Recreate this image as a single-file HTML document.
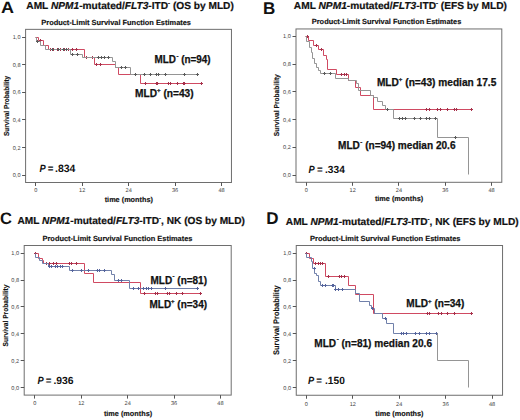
<!DOCTYPE html>
<html><head><meta charset="utf-8"><style>
html,body{margin:0;padding:0;background:#fff;}
svg{display:block;}
text{font-family:"Liberation Sans", sans-serif;text-rendering:geometricPrecision;}
</style></head><body>
<svg width="520" height="420" viewBox="0 0 520 420">
<rect width="520" height="420" fill="#fff"/>
<text transform="translate(1,13.4) scale(1.09,1)" font-size="16.5" font-weight="bold" fill="#111">A</text>
<text x="26.3" y="9.3" font-size="10.2" font-weight="bold" fill="#111" stroke="#111" stroke-width="0.2" textLength="207.5" lengthAdjust="spacingAndGlyphs">AML <tspan font-style="italic">NPM1</tspan>-mutated/<tspan font-style="italic">FLT3</tspan>-ITD<tspan dy="-4.5" font-size="6">-</tspan><tspan dy="4.5"> (OS by MLD)</tspan></text>
<text x="41.3" y="25" font-size="7.4" font-weight="bold" fill="#111" stroke="#111" stroke-width="0.15" textLength="149.7" lengthAdjust="spacingAndGlyphs">Product-Limit Survival Function Estimates</text>
<rect x="25.6" y="29.35" width="205.85" height="153.15" fill="none" stroke="#6e6e6e" stroke-width="1"/>
<line x1="22.1" y1="175.5" x2="25.6" y2="175.5" stroke="#555" stroke-width="1"/>
<text x="20.5" y="177.2" font-size="5.6" fill="#444" text-anchor="end">0,0</text>
<line x1="22.1" y1="147.5" x2="25.6" y2="147.5" stroke="#555" stroke-width="1"/>
<text x="20.5" y="149.58" font-size="5.6" fill="#444" text-anchor="end">0,2</text>
<line x1="22.1" y1="119.5" x2="25.6" y2="119.5" stroke="#555" stroke-width="1"/>
<text x="20.5" y="121.96" font-size="5.6" fill="#444" text-anchor="end">0,4</text>
<line x1="22.1" y1="92.5" x2="25.6" y2="92.5" stroke="#555" stroke-width="1"/>
<text x="20.5" y="94.34" font-size="5.6" fill="#444" text-anchor="end">0,6</text>
<line x1="22.1" y1="64.5" x2="25.6" y2="64.5" stroke="#555" stroke-width="1"/>
<text x="20.5" y="66.72" font-size="5.6" fill="#444" text-anchor="end">0,8</text>
<line x1="22.1" y1="37.5" x2="25.6" y2="37.5" stroke="#555" stroke-width="1"/>
<text x="20.5" y="39.1" font-size="5.6" fill="#444" text-anchor="end">1,0</text>
<line x1="35.5" y1="182.5" x2="35.5" y2="186" stroke="#555" stroke-width="1"/>
<text x="35.8" y="192.1" font-size="5.6" fill="#444" text-anchor="middle">0</text>
<line x1="82.5" y1="182.5" x2="82.5" y2="186" stroke="#555" stroke-width="1"/>
<text x="82.24" y="192.1" font-size="5.6" fill="#444" text-anchor="middle">12</text>
<line x1="128.5" y1="182.5" x2="128.5" y2="186" stroke="#555" stroke-width="1"/>
<text x="128.68" y="192.1" font-size="5.6" fill="#444" text-anchor="middle">24</text>
<line x1="175.5" y1="182.5" x2="175.5" y2="186" stroke="#555" stroke-width="1"/>
<text x="175.11" y="192.1" font-size="5.6" fill="#444" text-anchor="middle">36</text>
<line x1="221.5" y1="182.5" x2="221.5" y2="186" stroke="#555" stroke-width="1"/>
<text x="221.55" y="192.1" font-size="5.6" fill="#444" text-anchor="middle">48</text>
<text x="128.8" y="201.8" font-size="7.3" font-weight="bold" fill="#111" stroke="#111" stroke-width="0.15" text-anchor="middle">time (months)</text>
<text transform="translate(8.85,105.9) rotate(-90)" font-size="7.2" font-weight="bold" fill="#111" stroke="#111" stroke-width="0.15" text-anchor="middle" textLength="60.2" lengthAdjust="spacingAndGlyphs">Survival Probability</text>
<g font-size="10.6" font-weight="bold" fill="#111"><text x="39.6" y="172.2" font-style="italic" textLength="6.2" lengthAdjust="spacingAndGlyphs">P</text><text x="47.7" y="172.2" textLength="5.7" lengthAdjust="spacingAndGlyphs">=</text><text x="55" y="172.2" textLength="20.4" lengthAdjust="spacingAndGlyphs">.834</text></g>
<path d="M35.5 37.5 L38.5 37.5 L38.5 40.5 L43.5 40.5 L43.5 45.5 L48.5 45.5 L48.5 49.5 L84.5 49.5 L84.5 57.5 L94.5 57.5 L94.5 64.5 L115.5 64.5 L115.5 67.5 L118.5 67.5 L118.5 74.5 L140.5 74.5 L140.5 83.5 L202.5 83.5" fill="none" stroke="#d04a62" stroke-width="1"/>
<path d="M40.5 39V42M39 40.5H42" stroke="#a8304a" stroke-width="1"/>
<path d="M50.5 48V51M49 49.5H52" stroke="#a8304a" stroke-width="1"/>
<path d="M53.5 48V51M52 49.5H55" stroke="#a8304a" stroke-width="1"/>
<path d="M57.5 48V51M56 49.5H59" stroke="#a8304a" stroke-width="1"/>
<path d="M60.5 48V51M59 49.5H62" stroke="#a8304a" stroke-width="1"/>
<path d="M64.5 48V51M63 49.5H66" stroke="#a8304a" stroke-width="1"/>
<path d="M68.5 48V51M67 49.5H70" stroke="#a8304a" stroke-width="1"/>
<path d="M72.5 48V51M71 49.5H74" stroke="#a8304a" stroke-width="1"/>
<path d="M76.5 48V51M75 49.5H78" stroke="#a8304a" stroke-width="1"/>
<path d="M86.5 56V59M85 57.5H88" stroke="#a8304a" stroke-width="1"/>
<path d="M92.5 56V59M91 57.5H94" stroke="#a8304a" stroke-width="1"/>
<path d="M96.5 63V66M95 64.5H98" stroke="#a8304a" stroke-width="1"/>
<path d="M100.5 63V66M99 64.5H102" stroke="#a8304a" stroke-width="1"/>
<path d="M145.5 82V85M144 83.5H147" stroke="#a8304a" stroke-width="1"/>
<path d="M156.5 82V85M155 83.5H158" stroke="#a8304a" stroke-width="1"/>
<path d="M157.5 82V85M156 83.5H159" stroke="#a8304a" stroke-width="1"/>
<path d="M168.5 82V85M167 83.5H170" stroke="#a8304a" stroke-width="1"/>
<path d="M170.5 82V85M169 83.5H172" stroke="#a8304a" stroke-width="1"/>
<path d="M177.5 82V85M176 83.5H179" stroke="#a8304a" stroke-width="1"/>
<path d="M183.5 82V85M182 83.5H185" stroke="#a8304a" stroke-width="1"/>
<path d="M184.5 82V85M183 83.5H186" stroke="#a8304a" stroke-width="1"/>
<path d="M201.5 82V85M200 83.5H203" stroke="#a8304a" stroke-width="1"/>
<path d="M35.5 37.5 L36.5 37.5 L36.5 41.5 L40.5 41.5 L40.5 45.5 L45.5 45.5 L45.5 49.5 L70.5 49.5 L70.5 54.5 L82.5 54.5 L82.5 57.5 L112.5 57.5 L112.5 61.5 L115.5 61.5 L115.5 67.5 L130.5 67.5 L130.5 74.5 L198.5 74.5" fill="none" stroke="#959595" stroke-width="1"/>
<path d="M37.5 40V43M36 41.5H39" stroke="#5a5a5a" stroke-width="1"/>
<path d="M52.5 48V51M51 49.5H54" stroke="#5a5a5a" stroke-width="1"/>
<path d="M58.5 48V51M57 49.5H60" stroke="#5a5a5a" stroke-width="1"/>
<path d="M63.5 48V51M62 49.5H65" stroke="#5a5a5a" stroke-width="1"/>
<path d="M66.5 48V51M65 49.5H68" stroke="#5a5a5a" stroke-width="1"/>
<path d="M72.5 53V56M71 54.5H74" stroke="#5a5a5a" stroke-width="1"/>
<path d="M77.5 53V56M76 54.5H79" stroke="#5a5a5a" stroke-width="1"/>
<path d="M98.5 56V59M97 57.5H100" stroke="#5a5a5a" stroke-width="1"/>
<path d="M101.5 56V59M100 57.5H103" stroke="#5a5a5a" stroke-width="1"/>
<path d="M104.5 56V59M103 57.5H106" stroke="#5a5a5a" stroke-width="1"/>
<path d="M108.5 56V59M107 57.5H110" stroke="#5a5a5a" stroke-width="1"/>
<path d="M121.5 66V69M120 67.5H123" stroke="#5a5a5a" stroke-width="1"/>
<path d="M125.5 66V69M124 67.5H127" stroke="#5a5a5a" stroke-width="1"/>
<path d="M135.5 73V76M134 74.5H137" stroke="#5a5a5a" stroke-width="1"/>
<path d="M144.5 73V76M143 74.5H146" stroke="#5a5a5a" stroke-width="1"/>
<path d="M150.5 73V76M149 74.5H152" stroke="#5a5a5a" stroke-width="1"/>
<path d="M156.5 73V76M155 74.5H158" stroke="#5a5a5a" stroke-width="1"/>
<path d="M158.5 73V76M157 74.5H160" stroke="#5a5a5a" stroke-width="1"/>
<path d="M165.5 73V76M164 74.5H167" stroke="#5a5a5a" stroke-width="1"/>
<path d="M184.5 73V76M183 74.5H186" stroke="#5a5a5a" stroke-width="1"/>
<path d="M197.5 73V76M196 74.5H199" stroke="#5a5a5a" stroke-width="1"/>
<text transform="translate(263,13.7) scale(1.0,1)" font-size="17" font-weight="bold" fill="#111">B</text>
<text x="293.8" y="9.3" font-size="10.2" font-weight="bold" fill="#111" stroke="#111" stroke-width="0.2" textLength="213.2" lengthAdjust="spacingAndGlyphs">AML <tspan font-style="italic">NPM1</tspan>-mutated/<tspan font-style="italic">FLT3</tspan>-ITD<tspan dy="-4.5" font-size="6">-</tspan><tspan dy="4.5"> (EFS by MLD)</tspan></text>
<text x="311.8" y="24.4" font-size="7.4" font-weight="bold" fill="#111" stroke="#111" stroke-width="0.15" textLength="149.5" lengthAdjust="spacingAndGlyphs">Product-Limit Survival Function Estimates</text>
<rect x="296" y="28.95" width="205.8" height="153.35" fill="none" stroke="#6e6e6e" stroke-width="1"/>
<line x1="292.5" y1="175.5" x2="296" y2="175.5" stroke="#555" stroke-width="1"/>
<text x="290.9" y="177" font-size="5.6" fill="#444" text-anchor="end">0,0</text>
<line x1="292.5" y1="147.5" x2="296" y2="147.5" stroke="#555" stroke-width="1"/>
<text x="290.9" y="149.26" font-size="5.6" fill="#444" text-anchor="end">0,2</text>
<line x1="292.5" y1="119.5" x2="296" y2="119.5" stroke="#555" stroke-width="1"/>
<text x="290.9" y="121.52" font-size="5.6" fill="#444" text-anchor="end">0,4</text>
<line x1="292.5" y1="91.5" x2="296" y2="91.5" stroke="#555" stroke-width="1"/>
<text x="290.9" y="93.78" font-size="5.6" fill="#444" text-anchor="end">0,6</text>
<line x1="292.5" y1="64.5" x2="296" y2="64.5" stroke="#555" stroke-width="1"/>
<text x="290.9" y="66.04" font-size="5.6" fill="#444" text-anchor="end">0,8</text>
<line x1="292.5" y1="36.5" x2="296" y2="36.5" stroke="#555" stroke-width="1"/>
<text x="290.9" y="38.3" font-size="5.6" fill="#444" text-anchor="end">1,0</text>
<line x1="306.5" y1="182.3" x2="306.5" y2="185.8" stroke="#555" stroke-width="1"/>
<text x="306.35" y="192.1" font-size="5.6" fill="#444" text-anchor="middle">0</text>
<line x1="352.5" y1="182.3" x2="352.5" y2="185.8" stroke="#555" stroke-width="1"/>
<text x="352.65" y="192.1" font-size="5.6" fill="#444" text-anchor="middle">12</text>
<line x1="398.5" y1="182.3" x2="398.5" y2="185.8" stroke="#555" stroke-width="1"/>
<text x="398.95" y="192.1" font-size="5.6" fill="#444" text-anchor="middle">24</text>
<line x1="445.5" y1="182.3" x2="445.5" y2="185.8" stroke="#555" stroke-width="1"/>
<text x="445.25" y="192.1" font-size="5.6" fill="#444" text-anchor="middle">36</text>
<line x1="491.5" y1="182.3" x2="491.5" y2="185.8" stroke="#555" stroke-width="1"/>
<text x="491.55" y="192.1" font-size="5.6" fill="#444" text-anchor="middle">48</text>
<text x="399" y="200.8" font-size="7.3" font-weight="bold" fill="#111" stroke="#111" stroke-width="0.15" text-anchor="middle">time (months)</text>
<text transform="translate(278.6,105.2) rotate(-90)" font-size="7.2" font-weight="bold" fill="#111" stroke="#111" stroke-width="0.15" text-anchor="middle" textLength="62" lengthAdjust="spacingAndGlyphs">Survival Probability</text>
<g font-size="10.4" font-weight="bold" fill="#111"><text x="308.4" y="173.1" font-style="italic" textLength="6.2" lengthAdjust="spacingAndGlyphs">P</text><text x="317" y="173.1" textLength="5.7" lengthAdjust="spacingAndGlyphs">=</text><text x="325" y="173.1" textLength="19.8" lengthAdjust="spacingAndGlyphs">.334</text></g>
<path d="M305.5 36.5 L308.5 36.5 L308.5 40.5 L313.5 40.5 L313.5 45.5 L318.5 45.5 L318.5 49.5 L323.5 49.5 L323.5 55.5 L326.5 55.5 L326.5 59.5 L327.5 59.5 L327.5 69.5 L336.5 69.5 L336.5 74.5 L348.5 74.5 L348.5 80.5 L355.5 80.5 L355.5 87.5 L360.5 87.5 L360.5 95.5 L373.5 95.5 L373.5 109.5 L471.5 109.5" fill="none" stroke="#d04a62" stroke-width="1"/>
<path d="M307.5 35V38M306 36.5H309" stroke="#a8304a" stroke-width="1"/>
<path d="M316.5 44V47M315 45.5H318" stroke="#a8304a" stroke-width="1"/>
<path d="M321.5 48V51M320 49.5H323" stroke="#a8304a" stroke-width="1"/>
<path d="M341.5 73V76M340 74.5H343" stroke="#a8304a" stroke-width="1"/>
<path d="M344.5 73V76M343 74.5H346" stroke="#a8304a" stroke-width="1"/>
<path d="M346.5 73V76M345 74.5H348" stroke="#a8304a" stroke-width="1"/>
<path d="M426.5 108V111M425 109.5H428" stroke="#a8304a" stroke-width="1"/>
<path d="M429.5 108V111M428 109.5H431" stroke="#a8304a" stroke-width="1"/>
<path d="M437.5 108V111M436 109.5H439" stroke="#a8304a" stroke-width="1"/>
<path d="M440.5 108V111M439 109.5H442" stroke="#a8304a" stroke-width="1"/>
<path d="M447.5 108V111M446 109.5H449" stroke="#a8304a" stroke-width="1"/>
<path d="M454.5 108V111M453 109.5H456" stroke="#a8304a" stroke-width="1"/>
<path d="M456.5 108V111M455 109.5H458" stroke="#a8304a" stroke-width="1"/>
<path d="M471.5 108V111M470 109.5H473" stroke="#a8304a" stroke-width="1"/>
<path d="M305.5 36.5 L306.5 36.5 L306.5 41.5 L309.5 41.5 L309.5 47.5 L311.5 47.5 L311.5 52.5 L312.5 52.5 L312.5 58.5 L314.5 58.5 L314.5 63.5 L316.5 63.5 L316.5 67.5 L318.5 67.5 L318.5 70.5 L320.5 70.5 L320.5 73.5 L335.5 73.5 L335.5 78.5 L348.5 78.5 L348.5 80.5 L356.5 80.5 L356.5 83.5 L358.5 83.5 L358.5 90.5 L370.5 90.5 L370.5 95.5 L373.5 95.5 L373.5 97.5 L377.5 97.5 L377.5 101.5 L382.5 101.5 L382.5 105.5 L385.5 105.5 L385.5 109.5 L393.5 109.5 L393.5 118.5 L437.5 118.5 L437.5 137.5 L468.5 137.5 L468.5 174.5" fill="none" stroke="#959595" stroke-width="1"/>
<path d="M324.5 72V75M323 73.5H326" stroke="#5a5a5a" stroke-width="1"/>
<path d="M330.5 72V75M329 73.5H332" stroke="#5a5a5a" stroke-width="1"/>
<path d="M387.5 108V111M386 109.5H389" stroke="#5a5a5a" stroke-width="1"/>
<path d="M399.5 117V120M398 118.5H401" stroke="#5a5a5a" stroke-width="1"/>
<path d="M402.5 117V120M401 118.5H404" stroke="#5a5a5a" stroke-width="1"/>
<path d="M405.5 117V120M404 118.5H407" stroke="#5a5a5a" stroke-width="1"/>
<path d="M414.5 117V120M413 118.5H416" stroke="#5a5a5a" stroke-width="1"/>
<path d="M420.5 117V120M419 118.5H422" stroke="#5a5a5a" stroke-width="1"/>
<path d="M426.5 117V120M425 118.5H428" stroke="#5a5a5a" stroke-width="1"/>
<path d="M429.5 117V120M428 118.5H431" stroke="#5a5a5a" stroke-width="1"/>
<path d="M435.5 117V120M434 118.5H437" stroke="#5a5a5a" stroke-width="1"/>
<path d="M455.5 136V139M454 137.5H457" stroke="#5a5a5a" stroke-width="1"/>
<text transform="translate(0,224.3) scale(1.0,1)" font-size="16.5" font-weight="bold" fill="#111">C</text>
<text x="17.5" y="224" font-size="10.2" font-weight="bold" fill="#111" stroke="#111" stroke-width="0.2" textLength="227.5" lengthAdjust="spacingAndGlyphs">AML <tspan font-style="italic">NPM1</tspan>-mutated/<tspan font-style="italic">FLT3</tspan>-ITD<tspan dy="-4.5" font-size="6">-</tspan><tspan dy="4.5">, NK (OS by MLD)</tspan></text>
<text x="42.5" y="241.1" font-size="7.4" font-weight="bold" fill="#111" stroke="#111" stroke-width="0.15" textLength="150" lengthAdjust="spacingAndGlyphs">Product-Limit Survival Function Estimates</text>
<rect x="24.2" y="245.5" width="207" height="149.6" fill="none" stroke="#6e6e6e" stroke-width="1"/>
<line x1="20.7" y1="387.5" x2="24.2" y2="387.5" stroke="#555" stroke-width="1"/>
<text x="19.1" y="389.5" font-size="5.6" fill="#444" text-anchor="end">0,0</text>
<line x1="20.7" y1="360.5" x2="24.2" y2="360.5" stroke="#555" stroke-width="1"/>
<text x="19.1" y="362.65" font-size="5.6" fill="#444" text-anchor="end">0,2</text>
<line x1="20.7" y1="333.5" x2="24.2" y2="333.5" stroke="#555" stroke-width="1"/>
<text x="19.1" y="335.8" font-size="5.6" fill="#444" text-anchor="end">0,4</text>
<line x1="20.7" y1="306.5" x2="24.2" y2="306.5" stroke="#555" stroke-width="1"/>
<text x="19.1" y="308.95" font-size="5.6" fill="#444" text-anchor="end">0,6</text>
<line x1="20.7" y1="280.5" x2="24.2" y2="280.5" stroke="#555" stroke-width="1"/>
<text x="19.1" y="282.1" font-size="5.6" fill="#444" text-anchor="end">0,8</text>
<line x1="20.7" y1="253.5" x2="24.2" y2="253.5" stroke="#555" stroke-width="1"/>
<text x="19.1" y="255.25" font-size="5.6" fill="#444" text-anchor="end">1,0</text>
<line x1="34.5" y1="395.1" x2="34.5" y2="398.6" stroke="#555" stroke-width="1"/>
<text x="34.9" y="405.4" font-size="5.6" fill="#444" text-anchor="middle">0</text>
<line x1="81.5" y1="395.1" x2="81.5" y2="398.6" stroke="#555" stroke-width="1"/>
<text x="81.29" y="405.4" font-size="5.6" fill="#444" text-anchor="middle">12</text>
<line x1="127.5" y1="395.1" x2="127.5" y2="398.6" stroke="#555" stroke-width="1"/>
<text x="127.67" y="405.4" font-size="5.6" fill="#444" text-anchor="middle">24</text>
<line x1="174.5" y1="395.1" x2="174.5" y2="398.6" stroke="#555" stroke-width="1"/>
<text x="174.06" y="405.4" font-size="5.6" fill="#444" text-anchor="middle">36</text>
<line x1="220.5" y1="395.1" x2="220.5" y2="398.6" stroke="#555" stroke-width="1"/>
<text x="220.45" y="405.4" font-size="5.6" fill="#444" text-anchor="middle">48</text>
<text x="128" y="416" font-size="7.3" font-weight="bold" fill="#111" stroke="#111" stroke-width="0.15" text-anchor="middle">time (months)</text>
<text transform="translate(7.7,315.5) rotate(-90)" font-size="7.2" font-weight="bold" fill="#111" stroke="#111" stroke-width="0.15" text-anchor="middle" textLength="62" lengthAdjust="spacingAndGlyphs">Survival Probability</text>
<g font-size="10.4" font-weight="bold" fill="#111"><text x="37.4" y="384" font-style="italic" textLength="6.2" lengthAdjust="spacingAndGlyphs">P</text><text x="45.8" y="384" textLength="5.7" lengthAdjust="spacingAndGlyphs">=</text><text x="53.4" y="384" textLength="20.2" lengthAdjust="spacingAndGlyphs">.936</text></g>
<path d="M35.5 253.5 L38.5 253.5 L38.5 258.5 L42.5 258.5 L42.5 260.5 L43.5 260.5 L43.5 263.5 L84.5 263.5 L84.5 273.5 L93.5 273.5 L93.5 282.5 L140.5 282.5 L140.5 293.5 L201.5 293.5" fill="none" stroke="#d04a62" stroke-width="1"/>
<path d="M35.5 252V255M34 253.5H37" stroke="#a8304a" stroke-width="1"/>
<path d="M46.5 262V265M45 263.5H48" stroke="#a8304a" stroke-width="1"/>
<path d="M49.5 262V265M48 263.5H51" stroke="#a8304a" stroke-width="1"/>
<path d="M53.5 262V265M52 263.5H55" stroke="#a8304a" stroke-width="1"/>
<path d="M56.5 262V265M55 263.5H58" stroke="#a8304a" stroke-width="1"/>
<path d="M69.5 262V265M68 263.5H71" stroke="#a8304a" stroke-width="1"/>
<path d="M71.5 262V265M70 263.5H73" stroke="#a8304a" stroke-width="1"/>
<path d="M76.5 262V265M75 263.5H78" stroke="#a8304a" stroke-width="1"/>
<path d="M144.5 292V295M143 293.5H146" stroke="#a8304a" stroke-width="1"/>
<path d="M155.5 292V295M154 293.5H157" stroke="#a8304a" stroke-width="1"/>
<path d="M157.5 292V295M156 293.5H159" stroke="#a8304a" stroke-width="1"/>
<path d="M167.5 292V295M166 293.5H169" stroke="#a8304a" stroke-width="1"/>
<path d="M169.5 292V295M168 293.5H171" stroke="#a8304a" stroke-width="1"/>
<path d="M176.5 292V295M175 293.5H178" stroke="#a8304a" stroke-width="1"/>
<path d="M182.5 292V295M181 293.5H184" stroke="#a8304a" stroke-width="1"/>
<path d="M200.5 292V295M199 293.5H202" stroke="#a8304a" stroke-width="1"/>
<path d="M35.5 253.5 L35.5 253.5 L35.5 257.5 L39.5 257.5 L39.5 260.5 L42.5 260.5 L42.5 263.5 L48.5 263.5 L48.5 266.5 L69.5 266.5 L69.5 270.5 L111.5 270.5 L111.5 274.5 L114.5 274.5 L114.5 280.5 L129.5 280.5 L129.5 288.5 L197.5 288.5" fill="none" stroke="#7080aa" stroke-width="1"/>
<path d="M49.5 265V268M48 266.5H51" stroke="#55649c" stroke-width="1"/>
<path d="M51.5 265V268M50 266.5H53" stroke="#55649c" stroke-width="1"/>
<path d="M55.5 265V268M54 266.5H57" stroke="#55649c" stroke-width="1"/>
<path d="M57.5 265V268M56 266.5H59" stroke="#55649c" stroke-width="1"/>
<path d="M60.5 265V268M59 266.5H62" stroke="#55649c" stroke-width="1"/>
<path d="M62.5 265V268M61 266.5H64" stroke="#55649c" stroke-width="1"/>
<path d="M72.5 269V272M71 270.5H74" stroke="#55649c" stroke-width="1"/>
<path d="M81.5 269V272M80 270.5H83" stroke="#55649c" stroke-width="1"/>
<path d="M88.5 269V272M87 270.5H90" stroke="#55649c" stroke-width="1"/>
<path d="M97.5 269V272M96 270.5H99" stroke="#55649c" stroke-width="1"/>
<path d="M99.5 269V272M98 270.5H101" stroke="#55649c" stroke-width="1"/>
<path d="M104.5 269V272M103 270.5H106" stroke="#55649c" stroke-width="1"/>
<path d="M118.5 279V282M117 280.5H120" stroke="#55649c" stroke-width="1"/>
<path d="M121.5 279V282M120 280.5H123" stroke="#55649c" stroke-width="1"/>
<path d="M133.5 287V290M132 288.5H135" stroke="#55649c" stroke-width="1"/>
<path d="M138.5 287V290M137 288.5H140" stroke="#55649c" stroke-width="1"/>
<path d="M143.5 287V290M142 288.5H145" stroke="#55649c" stroke-width="1"/>
<path d="M146.5 287V290M145 288.5H148" stroke="#55649c" stroke-width="1"/>
<path d="M148.5 287V290M147 288.5H150" stroke="#55649c" stroke-width="1"/>
<path d="M151.5 287V290M150 288.5H153" stroke="#55649c" stroke-width="1"/>
<path d="M165.5 287V290M164 288.5H167" stroke="#55649c" stroke-width="1"/>
<path d="M197.5 287V290M196 288.5H199" stroke="#55649c" stroke-width="1"/>
<text transform="translate(266.3,224.1) scale(1.0,1)" font-size="17" font-weight="bold" fill="#111">D</text>
<text x="285.8" y="225" font-size="10.2" font-weight="bold" fill="#111" stroke="#111" stroke-width="0.2" textLength="232.8" lengthAdjust="spacingAndGlyphs">AML <tspan font-style="italic">NPM1</tspan>-mutated/<tspan font-style="italic">FLT3</tspan>-ITD<tspan dy="-4.5" font-size="6">-</tspan><tspan dy="4.5">, NK (EFS by MLD)</tspan></text>
<text x="310" y="241.1" font-size="7.4" font-weight="bold" fill="#111" stroke="#111" stroke-width="0.15" textLength="150.5" lengthAdjust="spacingAndGlyphs">Product-Limit Survival Function Estimates</text>
<rect x="296.25" y="245.5" width="206.3" height="149.75" fill="none" stroke="#6e6e6e" stroke-width="1"/>
<line x1="292.75" y1="387.5" x2="296.25" y2="387.5" stroke="#555" stroke-width="1"/>
<text x="291.15" y="389.5" font-size="5.6" fill="#444" text-anchor="end">0,0</text>
<line x1="292.75" y1="360.5" x2="296.25" y2="360.5" stroke="#555" stroke-width="1"/>
<text x="291.15" y="362.66" font-size="5.6" fill="#444" text-anchor="end">0,2</text>
<line x1="292.75" y1="333.5" x2="296.25" y2="333.5" stroke="#555" stroke-width="1"/>
<text x="291.15" y="335.82" font-size="5.6" fill="#444" text-anchor="end">0,4</text>
<line x1="292.75" y1="306.5" x2="296.25" y2="306.5" stroke="#555" stroke-width="1"/>
<text x="291.15" y="308.98" font-size="5.6" fill="#444" text-anchor="end">0,6</text>
<line x1="292.75" y1="280.5" x2="296.25" y2="280.5" stroke="#555" stroke-width="1"/>
<text x="291.15" y="282.14" font-size="5.6" fill="#444" text-anchor="end">0,8</text>
<line x1="292.75" y1="253.5" x2="296.25" y2="253.5" stroke="#555" stroke-width="1"/>
<text x="291.15" y="255.3" font-size="5.6" fill="#444" text-anchor="end">1,0</text>
<line x1="306.5" y1="395.25" x2="306.5" y2="398.75" stroke="#555" stroke-width="1"/>
<text x="306.35" y="405.55" font-size="5.6" fill="#444" text-anchor="middle">0</text>
<line x1="352.5" y1="395.25" x2="352.5" y2="398.75" stroke="#555" stroke-width="1"/>
<text x="352.79" y="405.55" font-size="5.6" fill="#444" text-anchor="middle">12</text>
<line x1="399.5" y1="395.25" x2="399.5" y2="398.75" stroke="#555" stroke-width="1"/>
<text x="399.23" y="405.55" font-size="5.6" fill="#444" text-anchor="middle">24</text>
<line x1="445.5" y1="395.25" x2="445.5" y2="398.75" stroke="#555" stroke-width="1"/>
<text x="445.66" y="405.55" font-size="5.6" fill="#444" text-anchor="middle">36</text>
<line x1="492.5" y1="395.25" x2="492.5" y2="398.75" stroke="#555" stroke-width="1"/>
<text x="492.1" y="405.55" font-size="5.6" fill="#444" text-anchor="middle">48</text>
<text x="399.4" y="416" font-size="7.3" font-weight="bold" fill="#111" stroke="#111" stroke-width="0.15" text-anchor="middle">time (months)</text>
<text transform="translate(279.3,320.2) rotate(-90)" font-size="8" font-weight="bold" fill="#111" stroke="#111" stroke-width="0.15" text-anchor="middle" textLength="69.5" lengthAdjust="spacingAndGlyphs">Survival Probability</text>
<g font-size="10.4" font-weight="bold" fill="#111"><text x="307.9" y="384" font-style="italic" textLength="6.2" lengthAdjust="spacingAndGlyphs">P</text><text x="316.3" y="384" textLength="5.7" lengthAdjust="spacingAndGlyphs">=</text><text x="325" y="384" textLength="19.8" lengthAdjust="spacingAndGlyphs">.150</text></g>
<path d="M305.5 253.5 L309.5 253.5 L309.5 258.5 L313.5 258.5 L313.5 263.5 L325.5 263.5 L325.5 276.5 L348.5 276.5 L348.5 285.5 L355.5 285.5 L355.5 294.5 L373.5 294.5 L373.5 313.5 L471.5 313.5" fill="none" stroke="#d04a62" stroke-width="1"/>
<path d="M306.5 252V255M305 253.5H308" stroke="#a8304a" stroke-width="1"/>
<path d="M315.5 262V265M314 263.5H317" stroke="#a8304a" stroke-width="1"/>
<path d="M318.5 262V265M317 263.5H320" stroke="#a8304a" stroke-width="1"/>
<path d="M320.5 262V265M319 263.5H322" stroke="#a8304a" stroke-width="1"/>
<path d="M322.5 262V265M321 263.5H324" stroke="#a8304a" stroke-width="1"/>
<path d="M328.5 275V278M327 276.5H330" stroke="#a8304a" stroke-width="1"/>
<path d="M339.5 275V278M338 276.5H341" stroke="#a8304a" stroke-width="1"/>
<path d="M341.5 275V278M340 276.5H343" stroke="#a8304a" stroke-width="1"/>
<path d="M344.5 275V278M343 276.5H346" stroke="#a8304a" stroke-width="1"/>
<path d="M427.5 312V315M426 313.5H429" stroke="#a8304a" stroke-width="1"/>
<path d="M429.5 312V315M428 313.5H431" stroke="#a8304a" stroke-width="1"/>
<path d="M438.5 312V315M437 313.5H440" stroke="#a8304a" stroke-width="1"/>
<path d="M441.5 312V315M440 313.5H443" stroke="#a8304a" stroke-width="1"/>
<path d="M447.5 312V315M446 313.5H449" stroke="#a8304a" stroke-width="1"/>
<path d="M454.5 312V315M453 313.5H456" stroke="#a8304a" stroke-width="1"/>
<path d="M471.5 312V315M470 313.5H473" stroke="#a8304a" stroke-width="1"/>
<path d="M305.5 253.5 L306.5 253.5 L306.5 257.5 L311.5 257.5 L311.5 261.5 L312.5 261.5 L312.5 268.5 L314.5 268.5 L314.5 273.5 L316.5 273.5 L316.5 275.5 L318.5 275.5 L318.5 281.5 L320.5 281.5 L320.5 285.5 L335.5 285.5 L335.5 289.5 L355.5 289.5 L355.5 293.5 L359.5 293.5 L359.5 301.5 L369.5 301.5 L369.5 305.5 L371.5 305.5 L371.5 308.5 L374.5 308.5 L374.5 313.5 L382.5 313.5 L382.5 318.5 L386.5 318.5 L386.5 323.5 L393.5 323.5 L393.5 333.5 L437.5 333.5" fill="none" stroke="#7080aa" stroke-width="1"/>
<path d="M314.5 267V270M313 268.5H316" stroke="#55649c" stroke-width="1"/>
<path d="M322.5 284V287M321 285.5H324" stroke="#55649c" stroke-width="1"/>
<path d="M325.5 284V287M324 285.5H327" stroke="#55649c" stroke-width="1"/>
<path d="M332.5 284V287M331 285.5H334" stroke="#55649c" stroke-width="1"/>
<path d="M333.5 284V287M332 285.5H335" stroke="#55649c" stroke-width="1"/>
<path d="M335.5 288V291M334 289.5H337" stroke="#55649c" stroke-width="1"/>
<path d="M338.5 288V291M337 289.5H340" stroke="#55649c" stroke-width="1"/>
<path d="M342.5 288V291M341 289.5H344" stroke="#55649c" stroke-width="1"/>
<path d="M372.5 307V310M371 308.5H374" stroke="#55649c" stroke-width="1"/>
<path d="M385.5 317V320M384 318.5H387" stroke="#55649c" stroke-width="1"/>
<path d="M401.5 332V335M400 333.5H403" stroke="#55649c" stroke-width="1"/>
<path d="M403.5 332V335M402 333.5H405" stroke="#55649c" stroke-width="1"/>
<path d="M406.5 332V335M405 333.5H408" stroke="#55649c" stroke-width="1"/>
<path d="M415.5 332V335M414 333.5H417" stroke="#55649c" stroke-width="1"/>
<path d="M419.5 332V335M418 333.5H421" stroke="#55649c" stroke-width="1"/>
<path d="M426.5 332V335M425 333.5H428" stroke="#55649c" stroke-width="1"/>
<path d="M429.5 332V335M428 333.5H431" stroke="#55649c" stroke-width="1"/>
<path d="M436.5 332V335M435 333.5H438" stroke="#55649c" stroke-width="1"/>
<path d="M437.5 333.5 L437.5 360.5 L468.5 360.5 L468.5 387.5" fill="none" stroke="#959595" stroke-width="1"/>
<text x="154.6" y="63.2" style="text-rendering:auto" font-size="10" font-weight="bold" fill="#111" stroke="#111" stroke-width="0.25" textLength="56" lengthAdjust="spacingAndGlyphs">MLD<tspan dy="-5.2" dx="0.5" font-size="6">-</tspan><tspan dy="5.2"> (n=94)</tspan></text>
<text x="135.1" y="96.5" style="text-rendering:auto" font-size="10" font-weight="bold" fill="#111" stroke="#111" stroke-width="0.25" textLength="58.5" lengthAdjust="spacingAndGlyphs">MLD<tspan dy="-4.8" font-size="6">+</tspan><tspan dy="4.8"> (n=43)</tspan></text>
<text x="376.9" y="86" style="text-rendering:auto" font-size="10" font-weight="bold" fill="#111" stroke="#111" stroke-width="0.25" textLength="119.4" lengthAdjust="spacingAndGlyphs">MLD<tspan dy="-4.8" font-size="6">+</tspan><tspan dy="4.8"> (n=43) median 17.5</tspan></text>
<text x="338" y="149" style="text-rendering:auto" font-size="10" font-weight="bold" fill="#111" stroke="#111" stroke-width="0.25" textLength="117.5" lengthAdjust="spacingAndGlyphs">MLD<tspan dy="-5.2" dx="0.5" font-size="6">-</tspan><tspan dy="5.2"> (n=94) median 20.6</tspan></text>
<text x="150.5" y="283.5" style="text-rendering:auto" font-size="10" font-weight="bold" fill="#111" stroke="#111" stroke-width="0.25" textLength="56.5" lengthAdjust="spacingAndGlyphs">MLD<tspan dy="-5.2" dx="0.5" font-size="6">-</tspan><tspan dy="5.2"> (n=81)</tspan></text>
<text x="149.5" y="307.7" style="text-rendering:auto" font-size="10" font-weight="bold" fill="#111" stroke="#111" stroke-width="0.25" textLength="57.5" lengthAdjust="spacingAndGlyphs">MLD<tspan dy="-4.8" font-size="6">+</tspan><tspan dy="4.8"> (n=34)</tspan></text>
<text x="406.3" y="307.3" style="text-rendering:auto" font-size="10" font-weight="bold" fill="#111" stroke="#111" stroke-width="0.25" textLength="58" lengthAdjust="spacingAndGlyphs">MLD<tspan dy="-4.8" font-size="6">+</tspan><tspan dy="4.8"> (n=34)</tspan></text>
<text x="314.3" y="346.5" style="text-rendering:auto" font-size="10" font-weight="bold" fill="#111" stroke="#111" stroke-width="0.25" textLength="117.7" lengthAdjust="spacingAndGlyphs">MLD<tspan dy="-5.2" dx="0.5" font-size="6">-</tspan><tspan dy="5.2"> (n=81) median 20.6</tspan></text>
</svg></body></html>
